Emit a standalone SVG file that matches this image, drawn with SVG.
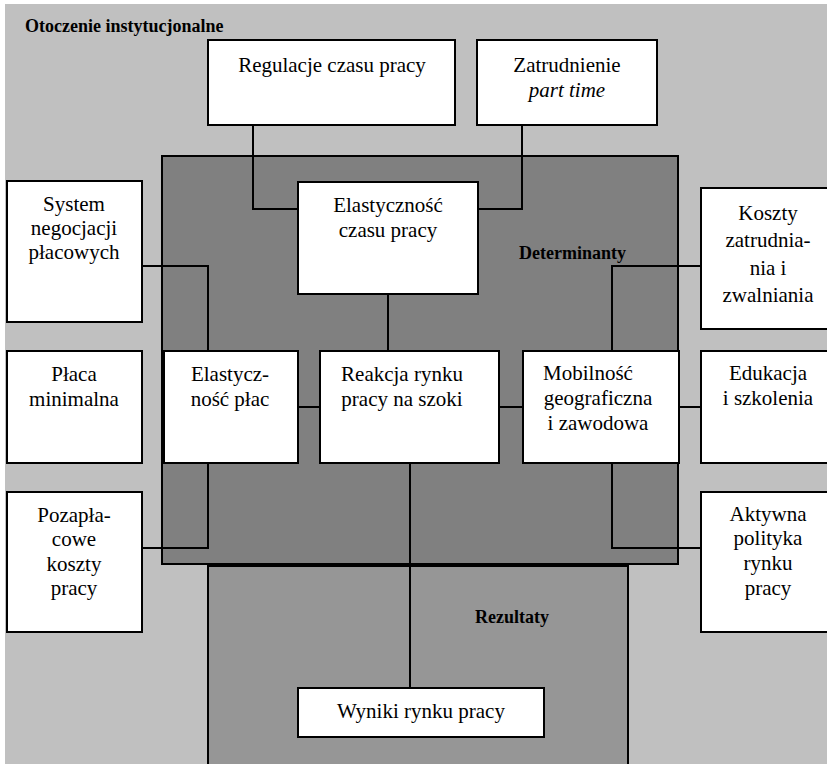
<svg xmlns="http://www.w3.org/2000/svg" width="827" height="764" viewBox="0 0 827 764">
<style>
.box{fill:#ffffff;stroke:#000000;stroke-width:2}
.c{fill:none;stroke:#000;stroke-width:2}
.lbl{font-family:'Liberation Serif','Times New Roman',serif;font-size:18px;font-weight:bold;fill:#000}
</style>
<rect x="5" y="4" width="830" height="770" fill="#c0c0c0"/>
<text class="lbl" x="25" y="32">Otoczenie instytucjonalne</text>
<g id="determinanty">
<rect x="162" y="156" width="516" height="408" fill="#808080" stroke="#000" stroke-width="2"/>
<text class="lbl" x="519" y="259">Determinanty</text>
</g>
<g id="rezultaty">
<rect x="208" y="566" width="420" height="210" fill="#969696" stroke="#000" stroke-width="2"/>
<text class="lbl" x="475" y="623">Rezultaty</text>
</g>
<g id="connectors">
<polyline class="c" points="253,125 253,209 298,209"/>
<polyline class="c" points="522,125 522,209 478,209"/>
<polyline class="c" points="388,294 388,351"/>
<polyline class="c" points="142,266 208,266 208,351"/>
<polyline class="c" points="701,266 612,266 612,351"/>
<polyline class="c" points="298,407 320,407"/>
<polyline class="c" points="499,407 523,407"/>
<polyline class="c" points="679,407 701,407"/>
<polyline class="c" points="208,463 208,548 142,548"/>
<polyline class="c" points="612,463 612,548 701,548"/>
<polyline class="c" points="410,463 410,688"/>
</g>
<g font-family="'Liberation Serif','Times New Roman',serif" font-size="21" text-anchor="middle" fill="#000">
<g id="regulacje">
<rect class="box" x="208" y="40" width="247" height="85"/>
<text x="332" y="72">Regulacje czasu pracy</text>
</g>
<g id="zatrudnienie">
<rect class="box" x="477" y="40" width="180" height="85"/>
<text x="567" y="72">Zatrudnienie</text>
<text x="567" y="97" font-style="italic">part time</text>
</g>
<g id="elastycznosc-czasu">
<rect class="box" x="298" y="182" width="180" height="112"/>
<text x="388" y="212">Elastyczność</text>
<text x="388" y="237">czasu pracy</text>
</g>
<g id="system">
<rect class="box" x="7" y="181" width="135" height="141"/>
<text x="74" y="211">System</text>
<text x="74" y="235">negocjacji</text>
<text x="74" y="259">płacowych</text>
</g>
<g id="koszty">
<rect class="box" x="701" y="188" width="135" height="141"/>
<text x="768" y="220">Koszty</text>
<text x="768" y="247">zatrudnia-</text>
<text x="768" y="275">nia i</text>
<text x="768" y="302">zwalniania</text>
</g>
<g id="placa">
<rect class="box" x="7" y="351" width="135" height="112"/>
<text x="74" y="381">Płaca</text>
<text x="74" y="406">minimalna</text>
</g>
<g id="elastycznosc-plac">
<rect class="box" x="164" y="351" width="134" height="112"/>
<text x="230" y="381">Elastycz-</text>
<text x="230" y="406">ność płac</text>
</g>
<g id="reakcja">
<rect class="box" x="320" y="351" width="179" height="112"/>
<text x="402" y="381">Reakcja rynku</text>
<text x="402" y="406">pracy na szoki</text>
</g>
<g id="mobilnosc">
<rect class="box" x="523" y="351" width="156" height="112"/>
<text x="588" y="380">Mobilność</text>
<text x="598" y="405">geograficzna</text>
<text x="598" y="430">i zawodowa</text>
</g>
<g id="edukacja">
<rect class="box" x="701" y="351" width="135" height="112"/>
<text x="768" y="380">Edukacja</text>
<text x="768" y="405">i szkolenia</text>
</g>
<g id="pozaplacowe">
<rect class="box" x="7" y="492" width="135" height="140"/>
<text x="74" y="522">Pozapła-</text>
<text x="74" y="546">cowe</text>
<text x="74" y="571">koszty</text>
<text x="74" y="595">pracy</text>
</g>
<g id="aktywna">
<rect class="box" x="701" y="492" width="135" height="140"/>
<text x="768" y="521">Aktywna</text>
<text x="768" y="545">polityka</text>
<text x="768" y="570">rynku</text>
<text x="768" y="595">pracy</text>
</g>
<g id="wyniki">
<rect class="box" x="298" y="688" width="246" height="49"/>
<text x="421" y="718">Wyniki rynku pracy</text>
</g>
</g>
</svg>
